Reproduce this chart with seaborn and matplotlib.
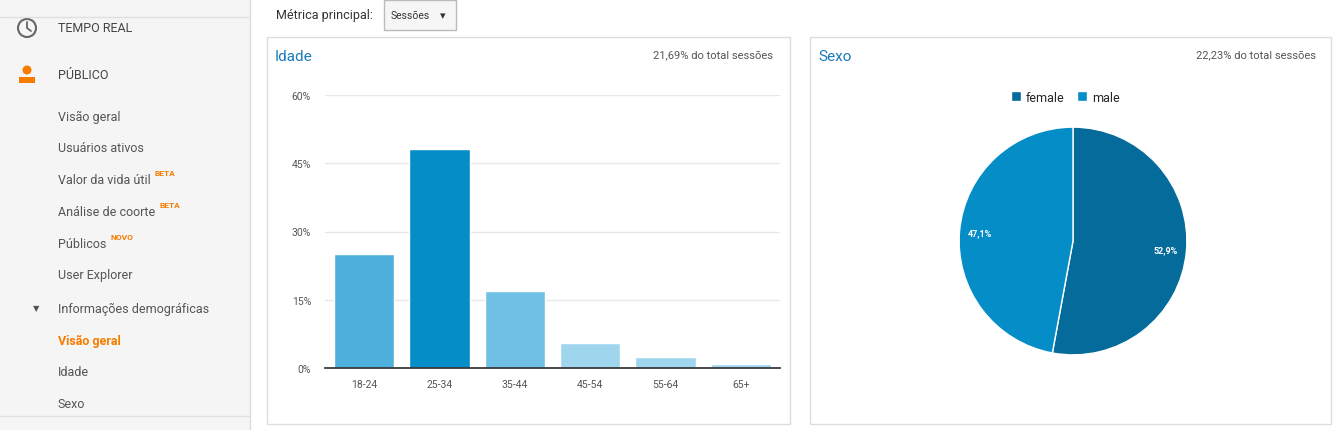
import matplotlib
matplotlib.use("Agg")
import matplotlib.pyplot as plt
import seaborn as sns
import pandas as pd
from matplotlib.patches import Rectangle, Ellipse

age_groups = ["18-24", "25-34", "35-44", "45-54", "55-64", "65+"]
age_values = [25.0, 48.1, 16.9, 5.5, 2.4, 0.9]
age_colors = ["#50b0dc", "#058dc7", "#6fc0e4", "#9fd6ee", "#9fd6ee", "#9fd6ee"]
y_ticks = [0, 15, 30, 45, 60]
sex_labels = ["female", "male"]
sex_values = [52.9, 47.1]
sex_colors = ["#056b9b", "#058dc7"]
menu_items = ["Visão geral", "Usuários ativos", "Valor da vida útil", "Análise de coorte",
              "Públicos", "User Explorer"]
menu_badges = ["", "", "BETA", "BETA", "NOVO", ""]

sns.set_theme(style="white")
plt.rcParams['font.family'] = ['Roboto', 'DejaVu Sans']
W, H = 1335, 431
fig = plt.figure(figsize=(W / 100, H / 100), dpi=100)
fig.patch.set_facecolor("white")

def fx(x): return x / W
def fy(y): return 1 - y / H

def rect(x0, y0, x1, y1, **kw):
    r = Rectangle((fx(x0), fy(y1)), fx(x1 - x0), fy(y0) - fy(y1), transform=fig.transFigure, zorder=-2, **kw)
    fig.patches.append(r)

# sidebar
rect(0, 0, 250, 431, facecolor="#f5f5f5", edgecolor="none")
fig.lines.append(plt.Line2D([fx(250), fx(250)], [0, 1], transform=fig.transFigure, color="#dcdcdc", lw=1))
fig.lines.append(plt.Line2D([0, fx(250)], [fy(18), fy(18)], transform=fig.transFigure, color="#e0e0e0", lw=1))
fig.lines.append(plt.Line2D([0, fx(250)], [fy(417), fy(417)], transform=fig.transFigure, color="#e0e0e0", lw=1))
fig.patches.append(Ellipse((fx(27), fy(29)), fx(18), 18 / H, transform=fig.transFigure, facecolor="none", edgecolor="#666666", lw=1.5))
fig.lines.append(plt.Line2D([fx(27), fx(27), fx(31)], [fy(23), fy(29), fy(32)], transform=fig.transFigure, color="#666666", lw=1.3))
fig.patches.append(Ellipse((fx(27), fy(71)), fx(9), 9 / H, transform=fig.transFigure, facecolor="#f57c00", edgecolor="none"))
rect(19, 78, 35, 84, facecolor="#f57c00", edgecolor="none")
fig.patches[-1].set_zorder(1)
fig.text(fx(58), fy(29), "TEMPO REAL", fontsize=9, color="#444444", va="center")
fig.text(fx(58), fy(76), "PÚBLICO", fontsize=9, color="#444444", va="center")
for i, (t, b) in enumerate(zip(menu_items, menu_badges)):
    y = 117 + i * 31.8
    txt = fig.text(fx(58), fy(y), t, fontsize=9, color="#555555", va="center")
    if b:
        fig.canvas.draw()
        bb = txt.get_window_extent()
        fig.text(bb.x1 / W + fx(4), fy(y - 7), b, fontsize=6, color="#f57c00", va="center", weight="bold")
fig.text(fx(33), fy(309), "▼", fontsize=6, color="#555555", va="center")
fig.text(fx(58), fy(309), "Informações demográficas", fontsize=9, color="#555555", va="center")
fig.text(fx(58), fy(341), "Visão geral", fontsize=9, color="#f57c00", va="center", weight="bold")
fig.text(fx(58), fy(373), "Idade", fontsize=9, color="#555555", va="center")
fig.text(fx(58), fy(405), "Sexo", fontsize=9, color="#555555", va="center")

# top bar
fig.text(fx(276), fy(16), "Métrica principal:", fontsize=9, color="#333333", va="center")
rect(384, 1, 456, 31, facecolor="#f6f6f6", edgecolor="#bbbbbb", lw=1)
fig.text(fx(391), fy(16), "Sessões", fontsize=7.5, color="#333333", va="center")
fig.text(fx(440), fy(16), "▾", fontsize=8, color="#333333", va="center")

# panels
for x0, x1 in [(267, 790), (810, 1331)]:
    rect(x0, 38, x1, 425, facecolor="white", edgecolor="#dddddd", lw=1)
fig.text(fx(275), fy(57), "Idade", fontsize=11, color="#1a7ab8", va="center")
fig.text(fx(773), fy(55), "21,69% do total sessões", fontsize=8, color="#555555", va="center", ha="right")
fig.text(fx(818), fy(57), "Sexo", fontsize=11, color="#1a7ab8", va="center")
fig.text(fx(1316), fy(55), "22,23% do total sessões", fontsize=8, color="#555555", va="center", ha="right")

# bar chart
ax = fig.add_axes([fx(325), fy(369), fx(455), fy(96) - fy(369)])
ax.patch.set_alpha(0)
df = pd.DataFrame({"age": age_groups, "val": age_values})
sns.barplot(data=df, x="age", y="val", hue="age", palette=age_colors, legend=False, ax=ax, width=0.8, saturation=1)
ax.set_ylim(0, 60)
ax.set_yticks(y_ticks)
ax.set_yticklabels([f"{v}%" for v in y_ticks], fontsize=7.5, color="#555555")
ax.tick_params(axis="x", labelsize=7.5, colors="#555555", length=0, pad=8)
ax.tick_params(axis="y", length=0, pad=10)
ax.set_xlabel(""); ax.set_ylabel("")
ax.grid(axis="y", color="#e8e8e8", lw=1)
ax.set_axisbelow(True)
for s in ["top", "right", "left"]:
    ax.spines[s].set_visible(False)
ax.spines["bottom"].set_color("#333333")
ax.set_xlim(-0.52, 5.52)

# pie
pax = fig.add_axes([fx(958), fy(357), fx(230), fy(127) - fy(357)])
pax.patch.set_alpha(0)
wedges, texts = pax.pie(sex_values, colors=sex_colors, startangle=90, counterclock=False,
                        wedgeprops=dict(edgecolor="white", linewidth=1),
                        labels=[f"{v:.1f}%".replace(".", ",") for v in sex_values], labeldistance=0.82,
                        textprops=dict(color="white", fontsize=6.5, weight="bold"))
for t in texts:
    t.set_ha("center")
pax.set_aspect("equal")
pax.set_xlim(-1.01, 1.01)
pax.set_ylim(-1.01, 1.01)
fig.legend(wedges, sex_labels, loc="center", bbox_to_anchor=(fx(1065), fy(98)), ncol=2, frameon=False,
           fontsize=9, handlelength=0.8, handleheight=0.8, columnspacing=1.0, handletextpad=0.4)

fig.savefig("out.png", dpi=100)
